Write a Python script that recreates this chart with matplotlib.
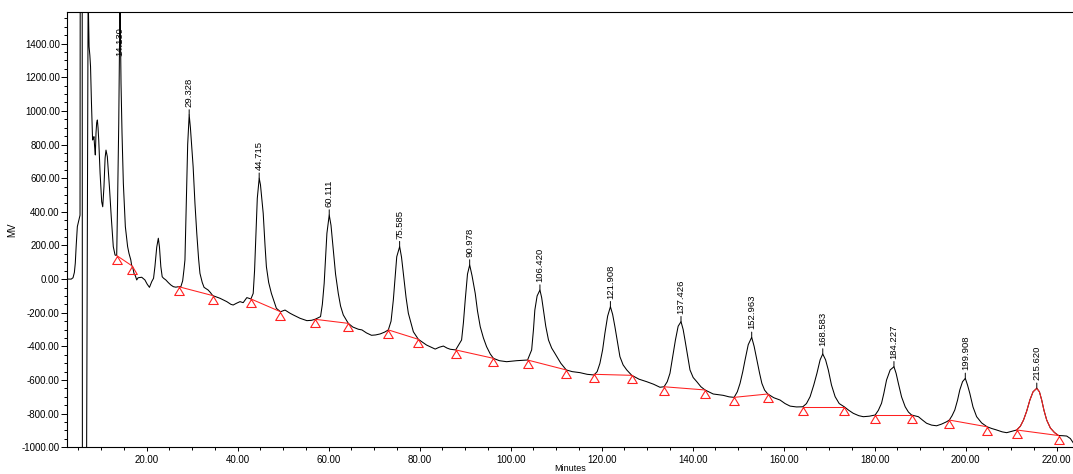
"""Chromatogram with peak retention-time labels and red integration baselines."""
import matplotlib
matplotlib.use("Agg")  # headless
import matplotlib.pyplot as plt
from matplotlib import font_manager
from matplotlib.ticker import MultipleLocator, FormatStrFormatter

# detector trace (minutes, mV); off-scale parts clipped
time_min = [
    2.4, 3.4, 3.8, 4.1, 4.3, 4.5, 4.75, 5.0, 5.2, 5.34, 5.38, 5.82, 5.86, 6.78, 7.12,
    7.33, 7.5, 7.65, 7.85, 8.1, 8.25, 8.4, 8.55, 8.7, 8.85, 9.0, 9.15, 9.3, 9.45, 9.75,
    10.1, 10.33, 10.6, 10.85, 11.05, 11.34, 11.8, 12.2, 12.65, 13.04, 13.4,
    13.6, 13.85, 14.05, 14.13, 14.25, 14.35, 14.57, 14.86, 15.3, 15.8, 16.1, 16.5, 16.7,
    16.9, 17.2, 17.5, 17.8, 18.1, 18.9, 19.6, 20.1, 20.6, 21.1, 21.5, 21.8, 22.2, 22.55,
    22.8, 23.1, 23.4, 23.7, 24.2, 24.75, 25.3, 25.85, 26.4, 27.0,
    27.5, 27.9, 28.2, 28.4, 28.7, 29.0, 29.33, 29.6, 30.2, 30.6, 31.0, 31.4, 31.7, 32.2,
    32.6, 33.5, 34.0, 34.5, 36.1, 37.6, 38.5, 39.0, 39.7, 40.5, 41.2, 42.0, 42.9,
    43.4, 43.7, 44.0, 44.3, 44.72, 45.0, 45.6, 46.0, 46.3, 46.8, 47.4, 48.5, 49.4, 50.4,
    51.5, 52.2, 53.7, 55.2, 56.2, 57.0, 58.2, 58.6, 59.0, 59.6, 60.11, 60.5, 61.0, 61.5,
    62.1, 62.6, 63.2, 64.3, 65.3, 66.5, 67.3, 68.3, 69.4, 70.3, 71.3, 72.3, 73.1,
    73.7, 74.2, 74.95, 75.59, 76.0, 76.4, 77.0, 77.5, 78.6, 79.7, 81.5, 83.4, 84.3,
    85.2, 86.0, 86.7, 87.9, 89.2, 89.6, 90.0, 90.5, 90.98, 91.5, 92.2, 92.7, 93.3, 94.0,
    94.7, 95.5, 96.2, 97.5, 99.1, 100.2, 101.3, 102.5, 103.7, 104.6, 105.0, 105.3, 105.8,
    106.42, 106.8, 107.2, 107.7, 108.3, 109.0, 109.7, 111.0, 112.2, 113.5, 115.2, 116.8,
    118.3, 119.0, 119.6, 120.2, 120.7, 121.3, 121.91, 122.4, 122.9, 123.5, 124.0, 124.7,
    125.5, 126.6, 128.2, 129.9, 131.4, 132.8, 133.7, 134.4, 135.0, 135.6, 136.2, 136.8,
    137.43, 137.9, 138.3, 138.9, 139.4, 140.1, 140.9, 141.8, 142.7, 144.5, 146.7, 148.0,
    149.1, 149.8, 150.4, 151.0, 151.5, 152.2, 152.96, 153.5, 154.1, 154.7, 155.2, 155.8,
    156.5, 157.8, 159.2, 160.3, 161.4, 162.8, 164.2, 165.0, 165.8, 166.6, 167.3, 168.0,
    168.58, 169.2, 169.8, 170.5, 171.3, 172.2, 173.3, 174.3, 175.3, 176.5, 177.5, 178.8,
    180.1, 180.8, 181.5, 182.0, 182.6, 183.4, 184.23, 184.7, 185.2, 185.9, 186.7, 187.4,
    188.1, 189.6, 190.5, 191.4, 192.5, 193.6, 194.7, 195.8, 196.4, 197.0, 197.6, 198.2,
    198.7, 199.3, 199.91, 200.4, 200.9, 201.6, 202.4, 203.5, 204.7, 205.7, 206.8, 208.0,
    209.0, 210.1, 211.2, 212.0, 212.7, 213.4, 214.1, 214.8, 215.62, 216.2, 216.7, 217.2,
    217.8, 218.6, 219.5, 220.4, 221.3, 222.2, 223.0, 223.6,
]
signal_mv = [
    0, 0, 8, 40, 95, 200, 312, 340, 365, 380, 1700, 1700, -1100, -1100, 1700,
    1382, 1330, 1263, 1050, 827, 835, 847, 787, 738, 867, 930, 946, 900, 827, 629,
    460, 430, 549, 720, 767, 728, 549, 371, 193, 143, 140,
    470, 926, 1450, 1700, 1400, 1164, 867, 570, 312, 193, 153, 114, 80,
    74, 34, 20, -5, 8, 11, -5, -30, -49, -15, 5, 74, 190, 243,
    190, 74, 14, 5, -5, -21, -35, -45, -48, -45,
    -45, -10, 60, 114, 470, 800, 976, 900, 668, 450, 272, 120, 34, -20,
    -49, -65, -80, -98, -114, -134, -150, -154, -144, -134, -140, -110, -118,
    -85, 50, 272, 480, 600, 560, 391, 200, 74, -20, -85, -174, -194, -184,
    -203, -213, -233, -247, -245, -239, -223, -150, -25, 272, 381, 320, 173, 30,
    -85, -160, -213, -263, -285, -298, -302, -320, -334, -332, -326, -315, -302,
    -250, -124, 133, 193, 130, 34, -110, -203, -313, -358, -392, -416, -405,
    -398, -410, -417, -421, -362, -260, -124, 30, 84, 20, -85, -190, -283, -350,
    -402, -445, -471, -485, -491, -488, -485, -483, -481, -421, -300, -184, -100,
    -65, -110, -184, -280, -362, -410, -441, -500, -540, -550, -556, -566,
    -570, -550, -501, -420, -322, -220, -164, -210, -283, -380, -461, -510,
    -540, -572, -595, -610, -625, -643, -640, -610, -560, -460, -362, -280,
    -253, -300, -362, -460, -540, -585, -610, -640, -659, -683, -691, -700,
    -703, -670, -620, -550, -481, -390, -346, -400, -481, -560, -620, -660,
    -683, -705, -719, -740, -755, -760, -759, -740, -699, -630, -560, -480,
    -445, -480, -540, -630, -699, -740, -759, -780, -798, -812, -818, -815,
    -808, -780, -738, -680, -600, -540, -521, -560, -620, -700, -759, -790,
    -808, -818, -838, -857, -868, -872, -862, -848, -838, -812, -778, -720,
    -659, -610, -590, -630, -679, -760, -818, -855, -878, -888, -897, -908,
    -913, -905, -897, -875, -838, -785, -719, -670, -649, -670, -719, -780,
    -838, -885, -912, -930, -931, -933, -948, -972,
]

# integrated peaks: retention time and apex height (mV)
peak_times = [14.130, 29.328, 44.715, 60.111, 75.585, 90.978, 106.420,
              121.908, 137.426, 152.963, 168.583, 184.227, 199.908, 215.620]
peak_heights = [1700, 976, 600, 381, 193, 84, -65,
                -164, -253, -346, -445, -521, -590, -649]

# baseline drop points (start / end of each integrated peak)
base_start_t = [13.4, 27.0, 42.9, 57.0, 73.1, 87.9, 103.7,
                118.3, 133.7, 149.1, 164.2, 180.1, 196.4, 211.2]
base_start_v = [140, -45, -118, -239, -302, -421, -481,
                -566, -640, -703, -759, -808, -838, -897]
base_end_t = [16.7, 34.5, 49.4, 64.3, 79.7, 96.2, 112.2,
              126.6, 142.7, 156.5, 173.3, 188.1, 204.7, 220.4]
base_end_v = [80, -98, -194, -263, -358, -471, -540,
              -572, -659, -683, -759, -808, -878, -930]

RED = "#ff2020"

plt.rcParams["font.family"] = "Liberation Sans"
names = {f.name for f in font_manager.fontManager.ttflist}
label_font = "Liberation Sans Narrow" if "Liberation Sans Narrow" in names else "Liberation Sans"
label_size = 7.5 if label_font == "Liberation Sans Narrow" else 6.8

fig = plt.figure(figsize=(10.73, 4.74), dpi=100)
ax = fig.add_axes([0.0622, 0.0563, 0.9378, 0.9177])

ax.plot(time_min, signal_mv, color="black", lw=0.75)

# last peak is drawn highlighted in red
t0, t1 = base_start_t[-1], base_end_t[-1]
red_t = [t for t in time_min if t0 <= t <= t1]
red_v = [v for t, v in zip(time_min, signal_mv) if t0 <= t <= t1]
ax.plot(red_t, red_v, color=RED, lw=0.75)

tri = [(0, 0), (-0.6, -1), (0.6, -1), (0, 0)]
for st, sv, et, ev in zip(base_start_t, base_start_v, base_end_t, base_end_v):
    ax.plot([st, et], [sv, ev], color=RED, lw=0.75)
    ax.plot([st, et], [sv, ev], linestyle="none", marker=tri, ms=11.5,
            mfc="none", mec=RED, mew=0.8)

ax.set_xlim(2.42, 223.58)
ax.set_ylim(-1000, 1586)

for t, h in zip(peak_times, peak_heights):
    lab = f"{t:.3f}"
    if h > 1500:
        ax.text(t, 1 - 15 / 435, lab, transform=ax.get_xaxis_transform(),
                rotation=90, ha="center", va="top", fontsize=label_size,
                family=label_font)
    else:
        ax.annotate(lab, xy=(t, h), xytext=(0, 8), textcoords="offset pixels",
                    rotation=90, ha="center", va="bottom", fontsize=label_size,
                    family=label_font,
                    arrowprops=dict(arrowstyle="-", color="black", lw=0.7,
                                    shrinkA=0, shrinkB=0))

ax.xaxis.set_major_locator(MultipleLocator(20))
ax.xaxis.set_minor_locator(MultipleLocator(5))
ax.yaxis.set_major_locator(MultipleLocator(200))
ax.yaxis.set_minor_locator(MultipleLocator(50))
ax.xaxis.set_major_formatter(FormatStrFormatter("%.2f"))
ax.yaxis.set_major_formatter(FormatStrFormatter("%.2f"))

ax.tick_params(axis="x", which="major", direction="out", length=3, width=0.7,
               pad=2.5, labelsize=7)
ax.tick_params(axis="x", which="minor", direction="out", length=2.2, width=0.7)
ax.tick_params(axis="y", which="major", direction="out", length=4, width=0.7,
               pad=1, labelsize=7)
ax.tick_params(axis="y", which="minor", direction="out", length=2.2, width=0.7)

for side in ("left", "bottom", "top"):
    ax.spines[side].set_linewidth(0.8)
ax.spines["right"].set_visible(False)

ax.set_xlabel("Minutes", fontsize=6.5, labelpad=-0.5)
ax.set_ylabel("MV", fontsize=7, labelpad=3)

fig.savefig("out.png", dpi=100)
plt.close(fig)
